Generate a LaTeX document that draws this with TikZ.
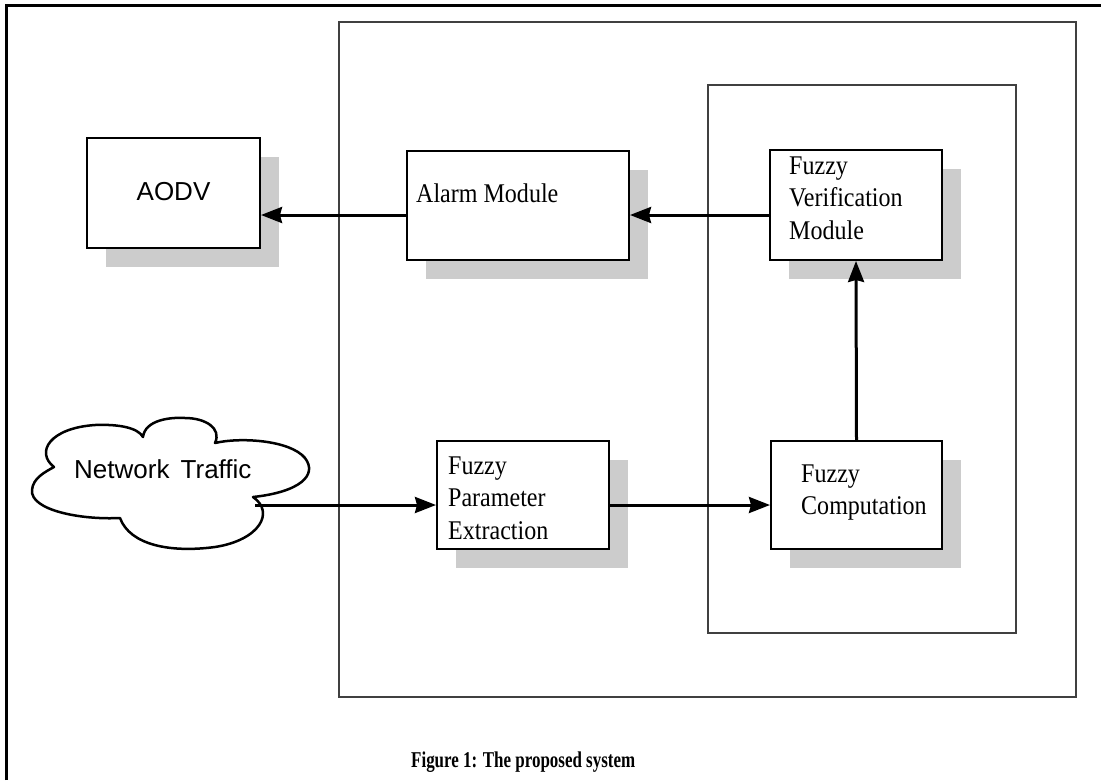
\documentclass[tikz,border=0pt]{standalone}
\usepackage{fontspec}
\setmainfont{Liberation Serif}
\newfontfamily\arialf{Liberation Sans}
\usepackage{graphicx}
\usetikzlibrary{arrows.meta,shadows,calc}
\newcommand{\lns}[1]{\scalebox{0.89}[1]{\begin{tabular}[t]{@{}l@{}}#1\end{tabular}}}
\tikzset{
  box/.style={draw=black, line width=2pt, fill=white, inner sep=0pt,
    drop shadow={shadow xshift=19pt, shadow yshift=-19pt, shadow scale=1, fill=black!20, opacity=1}},
  frame/.style={draw=black!75, line width=2pt},
  arr/.style={line width=3pt, -{Stealth[length=21pt,width=16pt,inset=2pt]}},
  serlbl/.style={inner sep=0pt, anchor=base west, font=\fontsize{27}{32.5}\selectfont},
  sanlbl/.style={inner sep=0pt, font=\arialf\fontsize{26}{30}\selectfont},
  cloudline/.style={draw=black, line width=2.5pt, line join=round}
}
\begin{document}
\begin{tikzpicture}[x=1pt,y=-1pt]
\useasboundingbox (0,0) rectangle (1101,780);
% outer frame (partly cropped)
\draw[line width=3pt] (6,780) -- (6,5) -- (1101,5);
% containers
\draw[frame] (339,22) rectangle (1076,697);
\draw[frame] (708,85) rectangle (1016,633);
% boxes
\node[box, minimum width=173pt, minimum height=110pt] (aodv) at (173.5,193) {};
\node[box, minimum width=222pt, minimum height=109pt] (alarm) at (518,205.5) {};
\node[box, minimum width=172pt, minimum height=110pt] (fvm) at (856,205) {};
\node[box, minimum width=172pt, minimum height=108pt] (fpe) at (523,495) {};
\node[box, minimum width=171pt, minimum height=108pt] (fc) at (856.5,495) {};
% labels
\node[sanlbl, anchor=base] (aodvt) at ($(aodv.center)+(0,7)$) {AODV};
\node[serlbl] (alarmt) at ($(alarm.north west)+(10,52)$) {\lns{Alarm Module}};
\node[serlbl] (fvmt) at ($(fvm.north west)+(20,25)$) {\lns{Fuzzy\\Verification\\Module}};
\node[serlbl] (fpet) at ($(fpe.north west)+(12,34)$) {\lns{Fuzzy\\Parameter\\Extraction}};
\node[serlbl] (fct) at ($(fc.north west)+(31,42)$) {\lns{Fuzzy\\Computation}};
% cloud
\draw[cloudline, fill=white] (54,467)
  .. controls (35,452) and (50,428) .. (95,425)
  .. controls (120,424) and (138,428) .. (143,437)
  .. controls (145,420) and (170,417) .. (185,418)
  .. controls (205,418) and (222,428) .. (215,443)
  .. controls (240,437) and (290,440) .. (305,458)
  .. controls (318,475) and (300,492) .. (253,497)
  .. controls (275,512) and (260,540) .. (215,547)
  .. controls (170,553) and (130,545) .. (120,518)
  .. controls (80,520) and (30,510) .. (32,490)
  .. controls (33,478) and (45,472) .. (54,467) -- cycle;
\node[sanlbl, anchor=base west] (nt) at (74,478) {Network\hspace{0.15em} Traffic};
\coordinate (cloudout) at (255,505);
\coordinate (toprow) at (0,215);
% connectors
\draw[arr] (cloudout) -- (cloudout -| fpe.west);
\draw[arr] (fpe.east |- cloudout) -- (fc.west |- cloudout);
\draw[arr] (fc.north) -- (fvm.south);
\draw[arr] (fvm.west |- toprow) -- (alarm.east |- toprow);
\draw[arr] (alarm.west |- toprow) -- (aodv.east |- toprow);
% caption
\node[inner sep=0pt, anchor=base west, font=\fontsize{22.6}{26}\selectfont\bfseries] (cap) at (411,767) {\scalebox{0.75}[1]{Figure 1: The proposed system}};
\end{tikzpicture}
\end{document}
